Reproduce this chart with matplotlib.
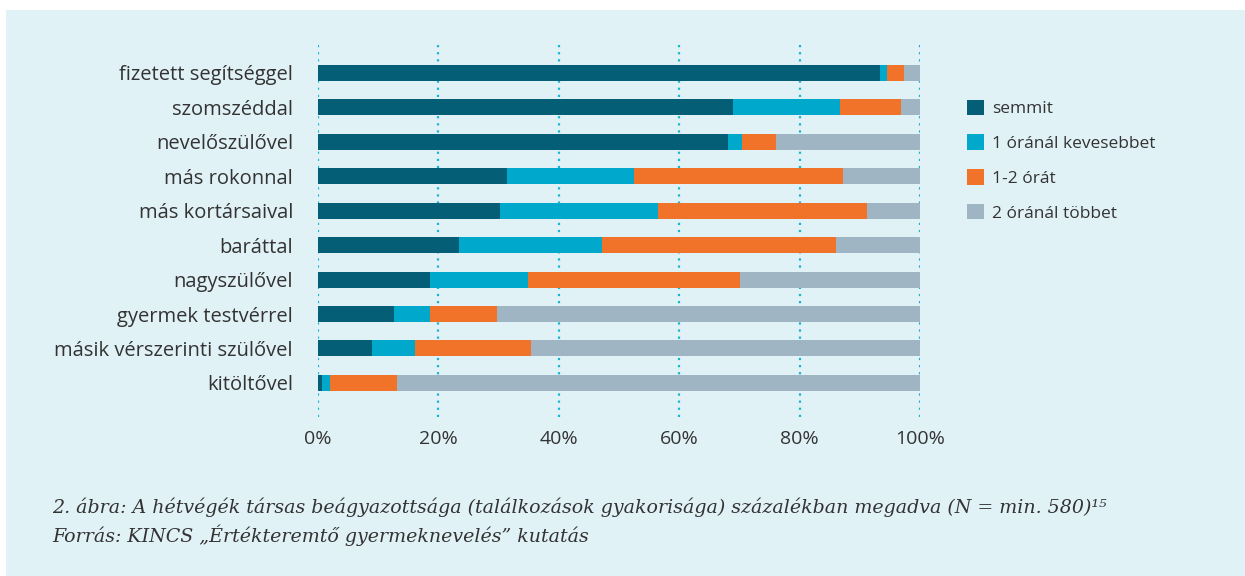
import matplotlib.pyplot as plt
from matplotlib.patches import Rectangle
import numpy as np

# categories from top to bottom
categories = ["fizetett segítséggel", "szomszéddal", "nevelőszülővel", "más rokonnal",
              "más kortársaival", "baráttal", "nagyszülővel", "gyermek testvérrel",
              "másik vérszerinti szülővel", "kitöltővel"]

seriesNames = ["semmit", "1 óránál kevesebbet", "1-2 órát", "2 óránál többet"]

semmit = [93.4, 68.9, 68.1, 31.4, 30.2, 23.5, 18.6, 12.6, 9.0, 0.6]
kevesebb = [1.2, 17.8, 2.3, 21.1, 26.3, 23.6, 16.3, 6.0, 7.1, 1.4]
egyKetto = [2.8, 10.2, 5.7, 34.7, 34.7, 38.9, 35.2, 11.1, 19.2, 11.1]
tobb = [2.6, 3.1, 23.9, 12.8, 8.8, 14.0, 29.9, 70.3, 64.7, 86.9]

colors = ["#045e75", "#00a9cb", "#f1732a", "#a0b5c4"]
BG = "#e1f2f7"
TXT = "#333333"

fig = plt.figure(figsize=(12.45, 5.76), dpi=100)
fig.patch.set_facecolor("white")
# light blue panel behind everything
fig.patches.append(Rectangle((6 / 1245, 0), 1, 1 - 10 / 576, transform=fig.transFigure,
                             facecolor=BG, edgecolor="none", zorder=-10))

ax = fig.add_axes([318 / 1245, 1 - 417 / 576, (920 - 318) / 1245, (417 - 45) / 576])
ax.set_facecolor("none")

y = np.arange(len(categories))
left = np.zeros(len(categories))
handles = []
for vals, name, c in zip([semmit, kevesebb, egyKetto, tobb], seriesNames, colors):
    h = ax.barh(y, vals, left=left, height=0.465, color=c, label=name, zorder=2)
    handles.append(h)
    left = left + np.array(vals)

ax.set_ylim(9.99, -0.81)
ax.set_xlim(0, 100)
for gx in range(0, 101, 20):
    ax.axvline(gx, color="#19b3d3", linestyle=(0, (1, 2.2)), linewidth=1.6, zorder=1)

ax.set_yticks(y)
ax.set_yticklabels(categories, fontsize=14.5, color=TXT, family="Open Sans")
ax.set_xticks(range(0, 101, 20))
ax.set_xticklabels([f"{v}%" for v in range(0, 101, 20)], fontsize=14, color=TXT,
                   family="Open Sans")
ax.tick_params(axis="y", length=0, pad=18)
ax.tick_params(axis="x", length=0, pad=9)
for s in ax.spines.values():
    s.set_visible(False)

leg = fig.legend(handles=handles, labels=seriesNames, loc="upper left",
                 bbox_to_anchor=(951 / 1245, 1 - 84 / 576), frameon=False,
                 prop={"family": "Open Sans", "size": 12.5}, labelcolor=TXT,
                 handlelength=1.0, handleheight=1.0, handletextpad=0.45,
                 labelspacing=0.98)

capFont = ["DejaVu Serif", "Liberation Serif"]
fig.text(52 / 1245, 1 - 507 / 576,
         "2. ábra: A hétvégék társas beágyazottsága (találkozások gyakorisága) "
         "százalékban megadva (N = min. 580)¹⁵",
         fontsize=13.7, style="italic", family=capFont, color=TXT, va="center")
fig.text(52 / 1245, 1 - 535 / 576,
         "Forrás: KINCS „Értékteremtő gyermeknevelés” kutatás",
         fontsize=13.7, style="italic", family=capFont, color=TXT, va="center")

fig.savefig("out.png", dpi=100, facecolor=fig.get_facecolor())
